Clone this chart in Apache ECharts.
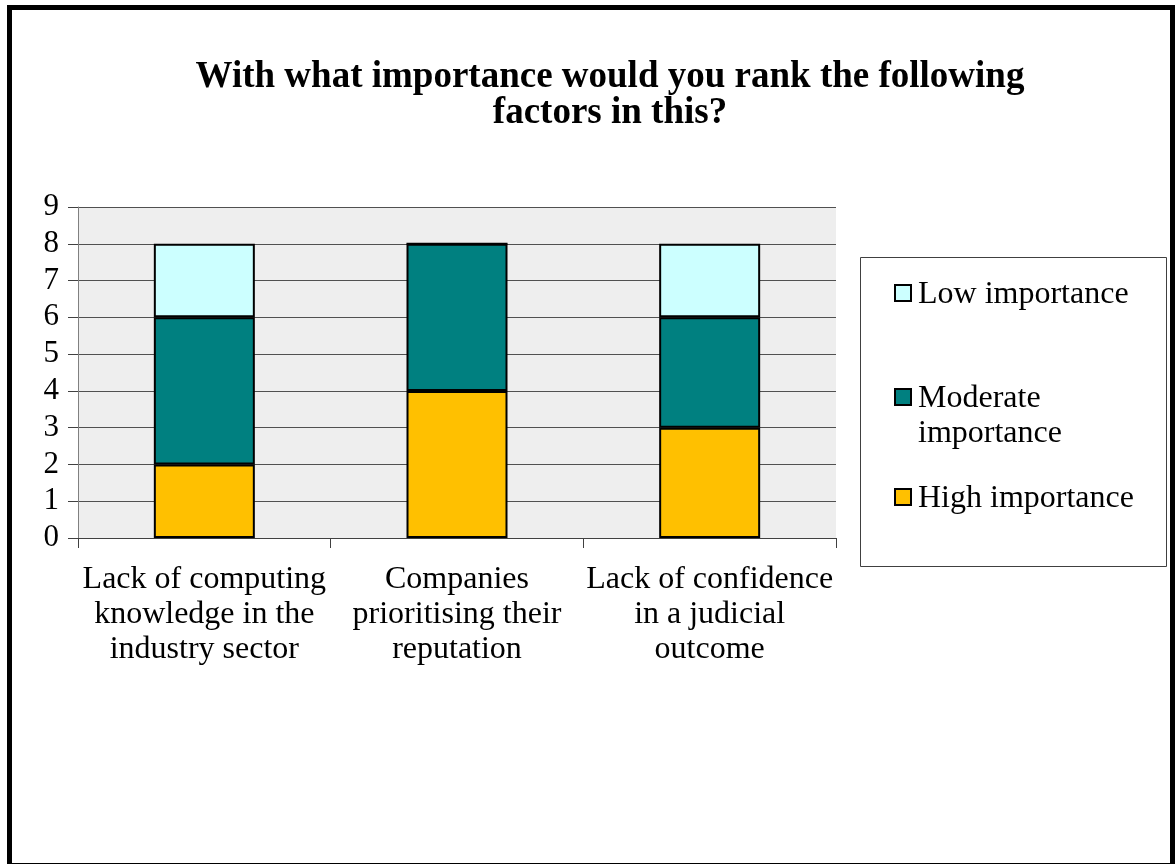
<!DOCTYPE html>
<html>
<head>
<meta charset="utf-8">
<script src="https://cdn.jsdelivr.net/npm/echarts@6/dist/echarts.min.js"></script>
<style>
  html, body { margin: 0; padding: 0; background: #ffffff; }
  #chart { width: 1175px; height: 864px; }
</style>
</head>
<body>
<div id="chart"></div>
<script>
// Survey question and answer categories
const titleText = 'With what importance would you rank the following\nfactors in this?';
const categories = [
  'Lack of computing\nknowledge in the\nindustry sector',
  'Companies\nprioritising their\nreputation',
  'Lack of confidence\nin a judicial\noutcome'
];

// Number of responses per importance level (stacked bottom to top)
const highImportance = [2, 4, 3];
const moderateImportance = [4, 4, 3];
const lowImportance = [2, 0, 2];

const seriesNames = ['High importance', 'Moderate importance', 'Low importance'];
const seriesColors = ['#FFC000', '#008080', '#CCFFFF'];
const legendLabels = ['Low importance', 'Moderate\nimportance', 'High importance'];
const legendColors = ['#CCFFFF', '#008080', '#FFC000'];

const yMin = 0, yMax = 9, yStep = 1;

const serif = '"Liberation Serif", "Times New Roman", serif';

const chart = echarts.init(document.getElementById('chart'), null, { renderer: 'canvas' });

const seriesData = [highImportance, moderateImportance, lowImportance];

// Legend drawn as a boxed list to the right of the plot
const legendItemY = [293, 397, 497];
const legendChildren = [{
  type: 'rect',
  shape: { x: 860.5, y: 257.5, width: 306, height: 309 },
  style: { fill: '#ffffff', stroke: '#404040', lineWidth: 1 }
}];
legendLabels.forEach((label, i) => {
  legendChildren.push({
    type: 'rect',
    shape: { x: 895, y: legendItemY[i] - 8, width: 16, height: 16 },
    style: { fill: legendColors[i], stroke: '#000000', lineWidth: 2 }
  });
  legendChildren.push({
    type: 'text',
    x: 918,
    y: legendItemY[i] - 16,
    style: {
      text: label,
      font: '32px ' + serif,
      fill: '#000000',
      lineHeight: 35,
      textVerticalAlign: 'top'
    }
  });
});

const option = {
  backgroundColor: '#ffffff',
  animation: false,
  title: {
    text: titleText,
    left: 605,
    top: 54,
    textAlign: 'center',
    textStyle: {
      fontFamily: serif,
      fontWeight: 'bold',
      fontSize: 37,
      lineHeight: 36,
      color: '#000000'
    }
  },
  grid: {
    left: 78,
    right: 339,
    top: 207,
    bottom: 326,
    show: true,
    backgroundColor: '#EEEEEE',
    borderWidth: 0
  },
  xAxis: {
    type: 'category',
    data: categories,
    axisLine: { show: true, lineStyle: { color: '#404040', width: 1 } },
    axisTick: { show: true, length: 10, lineStyle: { color: '#404040' } },
    axisLabel: {
      fontFamily: serif,
      fontSize: 32,
      lineHeight: 35,
      color: '#000000',
      margin: 24,
      interval: 0
    }
  },
  yAxis: {
    type: 'value',
    min: yMin,
    max: yMax,
    interval: yStep,
    axisLine: { show: true, lineStyle: { color: '#808080', width: 1 } },
    axisTick: { show: true, length: 10, lineStyle: { color: '#404040' } },
    axisLabel: {
      fontFamily: serif,
      fontSize: 31,
      color: '#000000',
      margin: 19
    },
    splitLine: { show: true, lineStyle: { color: '#505050', width: 1 } }
  },
  series: seriesNames.map((name, i) => ({
    name: name,
    type: 'bar',
    stack: 'total',
    data: seriesData[i],
    barWidth: 101,
    itemStyle: { color: seriesColors[i], borderColor: '#000000', borderWidth: 2 }
  })),
  graphic: [
    { type: 'group', children: legendChildren },
    {
      type: 'rect',
      shape: { x: 9.5, y: 7.5, width: 1163, height: 858 },
      style: { fill: 'none', stroke: '#000000', lineWidth: 5 },
      z: 100
    }
  ]
};

chart.setOption(option);
</script>
</body>
</html>
